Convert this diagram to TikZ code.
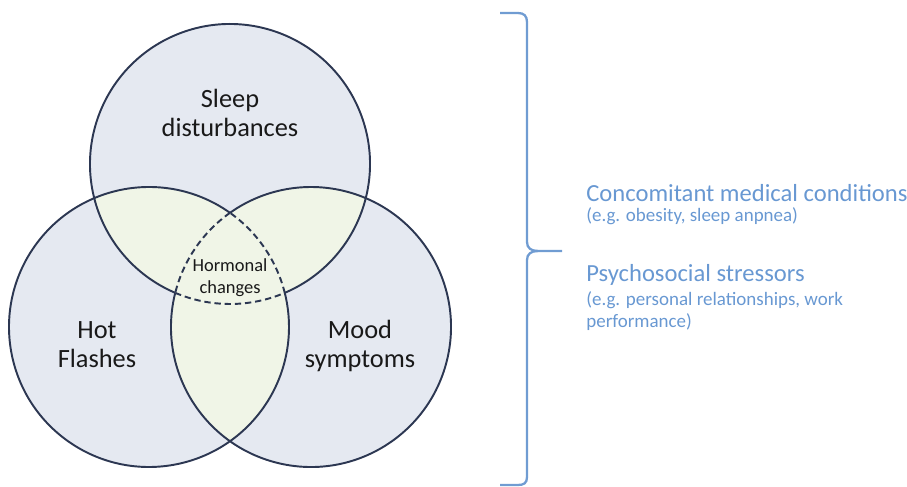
\documentclass[tikz,border=0pt]{standalone}
\usepackage{fontspec}
\setmainfont{Carlito}
\usepackage{tikz}

\definecolor{circlefill}{RGB}{229,233,241}
\definecolor{overlapfill}{RGB}{240,245,231}
\definecolor{edgecol}{RGB}{44,55,82}
\definecolor{bracecol}{RGB}{112,156,210}
\definecolor{notecol}{RGB}{104,152,210}

\tikzset{
  edge/.style={edgecol, line width=1.1pt},
  hormonedge/.style={edgecol, line width=1.1pt, dash pattern=on 3.6pt off 2.2pt},
  biglabel/.style={align=center, anchor=base, font=\fontsize{15}{17}\selectfont, text=black!90},
  notehead/.style={anchor=base west, inner sep=0pt, font=\fontsize{14}{16}\selectfont, text=notecol},
  notesub/.style={anchor=base west, inner sep=0pt, align=left, font=\fontsize{10.8}{12.6}\selectfont, text=notecol}
}

\begin{document}
\begin{tikzpicture}[x=0.02cm, y=0.02cm]
\useasboundingbox (0,0) rectangle (907,487);
\coordinate (T) at (230,323);
\coordinate (L) at (149,160);
\coordinate (R) at (311,160);
% circles and overlaps
\fill[circlefill] (T) circle[radius=140];
\fill[circlefill] (L) circle[radius=140];
\fill[circlefill] (R) circle[radius=140];
\begin{scope}
\clip (L) circle[radius=140];
\fill[overlapfill] (R) circle[radius=140];
\fill[overlapfill] (T) circle[radius=140];
\end{scope}
\begin{scope}
\clip (R) circle[radius=140];
\fill[overlapfill] (T) circle[radius=140];
\end{scope}
% solid outlines, dashed round the common part
\draw[edge] (L) ++(54.65:140) arc[start angle=54.65, end angle=374.1, radius=140];
\draw[edge] (R) ++(165.9:140) arc[start angle=165.9, end angle=485.35, radius=140];
\draw[edge] (T) ++(-66.95:140) arc[start angle=-66.95, end angle=246.95, radius=140];
\draw[hormonedge] (L) ++(14.1:140) arc[start angle=14.1, end angle=54.65, radius=140];
\draw[hormonedge] (R) ++(125.35:140) arc[start angle=125.35, end angle=165.9, radius=140];
\draw[hormonedge] (T) ++(-113.05:140) arc[start angle=-113.05, end angle=-66.95, radius=140];

% labels (base = last line)
\node[biglabel] (sleep) at (230,350) {Sleep\\disturbances};
\node[biglabel] (hot) at (97,119) {Hot\\Flashes};
\node[biglabel] (mood) at (360,119) {Mood\\symptoms};
\node[biglabel, font=\fontsize{10.5}{13}\selectfont] (hormonal) at (230,193) {Hormonal\\changes};

% brace
\draw[bracecol, line width=1.3pt] (500,474) -- (518,474) .. controls (524,474) and (527,471) .. (527,465)
  -- (527,245) .. controls (527,239) and (531,236) .. (538,236) -- (562,236);
\draw[bracecol, line width=1.3pt] (538,236) .. controls (531,236) and (527,233) .. (527,227)
  -- (527,10) .. controls (527,4) and (524,2) .. (518,2) -- (500,2);

\node[notehead] (medical) at (586,285) {Concomitant medical conditions};
\node[notesub] (medicalex) at (586,265) {(e.g. obesity, sleep anpnea)};
\node[notehead] (stress) at (586,205) {Psychosocial stressors};
\node[notesub] (stressex) at (586,159) {(e.g. personal relationships, work\\performance)};
\end{tikzpicture}
\end{document}
